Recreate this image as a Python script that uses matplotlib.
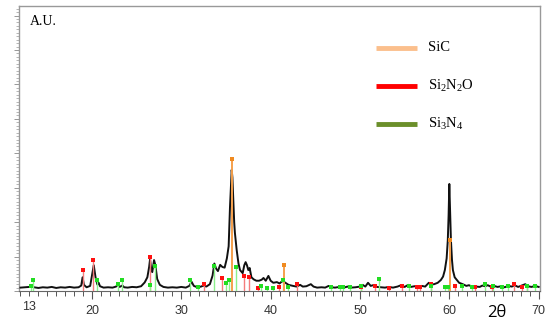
import numpy as np
import matplotlib.pyplot as plt
from matplotlib.ticker import MultipleLocator

plt.rcParams['mathtext.fontset'] = 'custom'
plt.rcParams['mathtext.rm'] = 'Liberation Serif'
plt.rcParams['mathtext.it'] = 'Liberation Serif:italic'

# measured pattern (2theta, intensity in arbitrary units)
two_theta = [12.0, 12.5, 13.0, 13.25, 13.5, 14.0, 14.5, 15.0, 15.5, 16.0, 16.5, 17.0,
             17.5, 18.0, 18.5, 18.8, 18.95, 19.1, 19.4, 19.8, 20.0, 20.2, 20.4, 20.6,
             20.75, 20.9, 21.3, 21.8, 22.3, 22.7, 22.9, 23.1, 23.4, 23.6, 24.0, 24.5,
             25.0, 25.5, 25.9, 26.2, 26.4, 26.5, 26.65, 26.75, 26.95, 27.1, 27.3, 27.6,
             28.0, 28.5, 29.0, 29.5, 30.0, 30.5, 30.9, 31.15, 31.4, 31.8, 32.2, 32.5,
             32.8, 33.2, 33.5, 33.7, 33.9, 34.1, 34.35, 34.6, 34.85, 35.1, 35.3, 35.45,
             35.55, 35.64, 35.72, 35.82, 35.92, 36.0, 36.2, 36.4, 36.57, 36.87, 37.05, 37.2,
             37.35, 37.5, 37.65, 37.85, 38.1, 38.4, 38.7, 39.0, 39.2, 39.45, 39.75, 40.0,
             40.3, 40.7, 41.0, 41.3, 41.6, 42.0, 42.5, 42.9, 43.3, 43.6, 44.0, 44.5,
             44.8, 45.2, 45.7, 46.1, 46.5, 46.8, 47.2, 47.7, 48.2, 48.6, 49.0, 49.5,
             50.0, 50.3, 50.6, 50.9, 51.2, 51.6, 51.9, 52.3, 52.8, 53.2, 53.7, 54.2,
             54.6, 55.0, 55.4, 55.7, 56.1, 56.5, 56.9, 57.3, 57.7, 58.0, 58.3, 58.7,
             59.05, 59.3, 59.5, 59.7, 59.83, 59.92, 60.0, 60.08, 60.18, 60.3, 60.4, 60.6,
             60.85, 61.1, 61.5, 61.9, 62.2, 62.6, 63.0, 63.4, 63.7, 64.0, 64.3, 64.7,
             65.0, 65.4, 65.8, 66.2, 66.6, 67.0, 67.3, 67.7, 68.1, 68.5, 68.8, 69.2,
             69.6, 70.0]
intensity = [1.0, 1.1, 1.2, 1.5, 1.1, 0.9, 1.1, 1.0, 1.2, 0.9, 1.1, 1.0,
             1.2, 1.0, 1.1, 1.6, 4.0, 1.8, 1.1, 1.5, 4.5, 7.5, 4.0, 1.9,
             2.4, 1.4, 1.0, 1.1, 1.0, 1.3, 1.9, 1.2, 1.6, 1.1, 1.0, 1.2,
             1.1, 1.4, 2.5, 4.0, 7.0, 9.2, 6.0, 5.5, 9.0, 7.5, 3.5, 1.8,
             1.2, 1.0, 1.1, 1.0, 1.2, 1.0, 1.5, 2.7, 1.5, 1.1, 1.3, 1.6,
             1.3, 2.0, 4.5, 8.0, 6.5, 5.8, 7.6, 7.0, 6.8, 9.5, 13.0, 24.4,
             30.0, 35.2, 33.0, 26.5, 20.0, 16.9, 11.9, 8.0, 6.1, 5.2, 7.5, 8.4,
             7.5, 6.1, 6.7, 4.0, 3.4, 3.0, 3.0, 3.3, 3.8, 3.0, 4.4, 3.0,
             2.4, 2.6, 2.2, 2.9, 2.5, 1.8, 1.5, 1.3, 1.8, 1.3, 1.4, 2.0,
             1.3, 1.0, 1.1, 1.0, 1.5, 1.1, 1.0, 1.2, 1.0, 1.3, 1.0, 1.1,
             1.3, 1.8, 1.3, 2.4, 1.5, 1.8, 1.2, 1.1, 1.0, 1.2, 1.0, 1.3,
             1.7, 1.2, 1.8, 1.2, 1.4, 1.2, 1.5, 1.3, 2.4, 1.9, 2.0, 2.4,
             3.2, 4.2, 6.1, 9.5, 14.8, 22.0, 31.1, 24.0, 14.8, 9.0, 6.1, 4.0,
             3.2, 2.4, 2.0, 1.5, 1.7, 1.2, 1.3, 1.2, 1.6, 1.4, 1.7, 1.2,
             1.5, 1.2, 1.4, 1.1, 1.5, 1.3, 1.7, 1.2, 1.6, 2.0, 1.4, 1.2,
             1.5, 1.2]

# reference sticks
sic_pos = [35.72, 41.45, 60.08]
sic_h = [38.4, 7.6, 14.8]
sino_pos = [18.96, 20.15, 26.5, 32.5, 34.6, 37.06, 37.6, 38.55, 40.9, 42.9, 50.1, 51.7,
            53.2, 54.7, 56.4, 56.7, 58.0, 60.65, 62.9, 64.8, 67.2, 68.1, 68.7]
sino_h = [6.0, 9.0, 9.9, 2.0, 3.8, 4.4, 4.1, 1.0, 1.2, 2.0, 1.2, 1.5,
          1.0, 1.5, 1.2, 1.2, 2.0, 1.5, 1.2, 1.2, 2.0, 1.2, 1.5]
sin_pos = [13.2, 13.4, 20.6, 22.9, 23.4, 26.5, 27.0, 31.0, 31.9, 33.7, 35.0, 35.3, 36.1,
           38.9, 39.6, 40.3, 41.4, 41.9, 46.8, 47.8, 48.1, 48.9, 50.1, 52.1, 55.5,
           58.0, 59.5, 59.9, 61.4, 62.5, 64.0, 64.9, 65.9, 66.6, 68.7, 69.6]
sin_h = [1.5, 3.2, 3.2, 2.0, 3.2, 1.7, 7.3, 3.2, 1.2, 7.3, 2.4, 3.2, 7.0,
         1.5, 1.0, 1.0, 3.2, 1.2, 1.2, 1.2, 1.2, 1.2, 1.5, 3.5, 1.5,
         1.5, 1.2, 1.2, 1.5, 1.2, 2.0, 1.5, 1.2, 1.5, 1.5, 1.5]

legend_labels = ['SiC', 'Si$_2$N$_2$O', 'Si$_3$N$_4$']
legend_colors = ['#fbbf8c', '#ff0000', '#6b8f2a']

fig = plt.figure(figsize=(5.5, 3.3), dpi=100)
ax = fig.add_axes([0.0345, 0.118, 0.9465, 0.864])

ax.plot(two_theta, intensity, color='#111111', lw=1.4, zorder=3)

ax.vlines(sino_pos, 0, sino_h, color='#f47c7c', lw=1.0, zorder=4)
ax.plot(sino_pos, sino_h, 's', color='#ff1010', ms=3, mew=0, zorder=5)
ax.vlines(sin_pos, 0, sin_h, color='#8cf08c', lw=1.0, zorder=4)
ax.plot(sin_pos, sin_h, 's', color='#22dd22', ms=2.5, mew=0, zorder=5)
ax.vlines(sic_pos, 0, sic_h, color='#f5a04c', lw=1.4, zorder=4)
ax.plot(sic_pos, sic_h, 's', color='#f08a20', ms=2.6, mew=0, zorder=5)

ax.set_xlim(11.83, 70.1)
ax.set_ylim(0, 82.8)

ax.xaxis.set_major_locator(MultipleLocator(10))
ax.xaxis.set_minor_locator(MultipleLocator(1))
ax.yaxis.set_major_locator(MultipleLocator(10))
ax.yaxis.set_minor_locator(MultipleLocator(1))
ax.set_yticklabels([])
ax.tick_params(axis='x', which='major', direction='out', length=6, width=0.8,
               color='#555555', labelsize=9, labelcolor='#333333', pad=4)
ax.tick_params(axis='x', which='minor', direction='out', length=3.5, width=0.7,
               color='#555555')
ax.tick_params(axis='y', which='major', direction='out', length=3.5, width=0.6,
               color='#888888')
ax.tick_params(axis='y', which='minor', direction='out', length=2, width=0.5,
               color='#999999')
for lbl in ax.get_xticklabels():
    lbl.set_fontfamily('Liberation Sans')
ax.text(13, -0.0355, '13', transform=ax.get_xaxis_transform(), ha='center', va='top',
        fontsize=9, color='#333333', family='Liberation Sans')

for s in ['top', 'right', 'left']:
    ax.spines[s].set_color('#999999')
    ax.spines[s].set_linewidth(1.0)
ax.spines['bottom'].set_color('#666666')

ax.text(0.021, 0.944, 'A.U.', transform=ax.transAxes, ha='left', va='center',
        fontsize=10, family='Liberation Serif')
ax.text(0.918, -0.077, '2θ', transform=ax.transAxes, ha='center', va='center',
        fontsize=12, family='Open Sans')

for i, (lab, col) in enumerate(zip(legend_labels, legend_colors)):
    y = 0.853 - i * 0.1335
    ax.plot([0.686, 0.765], [y, y], color=col, lw=3.5, transform=ax.transAxes,
            solid_capstyle='butt', clip_on=False)
    ax.text(0.786, y, lab, transform=ax.transAxes, ha='left', va='center',
            fontsize=10.5, family='Liberation Serif')

fig.savefig('out.png', dpi=100)
